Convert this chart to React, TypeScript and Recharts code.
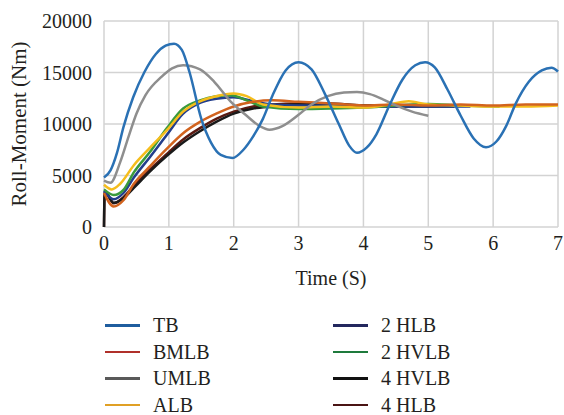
import React from 'react';
import { LineChart, Line, XAxis, YAxis, CartesianGrid, Legend } from 'recharts';

const xTicks = [0, 1, 2, 3, 4, 5, 6, 7];
const yTicks = [0, 5000, 10000, 15000, 20000];

const tbTime = [0, 0.1, 0.2, 0.3, 0.45, 0.62, 0.8, 0.95, 1.08, 1.2, 1.32, 1.5, 1.65, 1.8, 1.98, 2.15, 2.3, 2.45, 2.6, 2.8, 3.0, 3.2, 3.4, 3.62, 3.78, 3.9, 4.05, 4.2, 4.4, 4.6, 4.8, 4.95, 5.1, 5.3, 5.5, 5.7, 5.89, 6.05, 6.2, 6.35, 6.55, 6.75, 6.9, 7.0];
const tbValue = [4800, 5500, 7200, 9700, 12600, 15000, 16800, 17600, 17800, 17200, 15000, 10500, 8200, 7000, 6700, 7500, 8800, 10500, 12800, 15200, 16000, 15300, 13000, 10000, 7900, 7200, 7700, 9000, 11800, 14300, 15700, 16000, 15500, 13300, 10800, 8600, 7750, 8300, 9800, 12000, 14100, 15200, 15470, 15100];

const umlbTime = [0, 0.1, 0.25, 0.38, 0.5, 0.64, 0.89, 1.05, 1.22, 1.48, 1.7, 1.95, 2.2, 2.4, 2.55, 2.75, 3.0, 3.2, 3.45, 3.7, 3.9, 4.1, 4.3, 4.5, 4.75, 5.0];
const umlbValue = [4500, 4300, 6300, 8800, 11000, 12800, 14600, 15400, 15700, 15300, 14100, 12200, 10800, 9800, 9450, 9800, 10900, 11900, 12700, 13050, 13100, 12900, 12400, 11800, 11200, 10800];

const albTime = [0, 0.12, 0.25, 0.46, 0.71, 0.97, 1.22, 1.48, 1.73, 2.0, 2.2, 2.45, 3.0, 3.5, 4.0, 4.4, 4.7, 5.0, 5.5, 6.0, 6.5, 7.0];
const albValue = [4100, 3650, 4200, 6000, 7700, 9400, 11200, 12200, 12700, 12950, 12700, 11900, 11600, 11700, 11600, 11900, 12200, 11900, 11800, 11700, 11700, 11800];

const hvlb2Time = [0, 0.15, 0.3, 0.46, 0.71, 0.97, 1.22, 1.48, 1.73, 1.95, 2.2, 2.45, 3.0, 3.5, 4.0, 4.5, 5.0, 5.5, 6.1];
const hvlb2Value = [3650, 3100, 3600, 5300, 7300, 9600, 11500, 12300, 12700, 12800, 12300, 11700, 11450, 11500, 11600, 11800, 11950, 11800, 11700];

const hlb2Time = [0, 0.15, 0.3, 0.46, 0.71, 0.97, 1.22, 1.48, 1.73, 2.0, 2.3, 2.6, 3.0, 3.5, 4.0, 4.5, 5.0, 5.65];
const hlb2Value = [3500, 2700, 3300, 4800, 6800, 8950, 11000, 12050, 12450, 12600, 12200, 11900, 11800, 11800, 11700, 11700, 11700, 11700];

const bmlbTime = [0, 0.15, 0.3, 0.46, 0.71, 0.97, 1.22, 1.48, 1.73, 2.0, 2.3, 2.6, 3.0, 3.5, 4.0, 4.5, 5.0, 5.5, 6.0, 6.5, 7.0];
const bmlbValue = [3300, 2000, 2600, 4200, 5900, 7600, 9100, 10200, 11000, 11700, 12150, 12300, 12150, 12000, 11800, 11900, 11800, 11900, 11800, 11900, 11900];

const hvlb4Time = [0, 0.01, 0.15, 0.3, 0.46, 0.71, 0.97, 1.22, 1.48, 1.73, 2.0, 2.3, 2.6, 3.0, 3.5, 4.0, 4.5, 5.0, 5.4];
const hvlb4Value = [0, 3400, 2350, 2800, 3800, 5400, 6900, 8200, 9300, 10200, 11000, 11500, 11700, 11900, 11900, 11800, 11700, 11700, 11700];

const hlb4Time = [0, 0.01, 0.15, 0.3, 0.46, 0.71, 0.97, 1.22, 1.48, 1.73, 2.0, 2.3, 2.6, 3.0, 3.5, 4.0, 4.5, 5.0, 5.5];
const hlb4Value = [0, 3500, 2300, 2900, 4000, 5600, 7100, 8500, 9600, 10500, 11200, 11700, 11900, 12000, 12000, 11800, 11800, 11800, 11800];

const toPoints = (t: number[], v: number[]) => t.map((x, i) => ({ t: x, v: v[i] }));

const series = [
  { name: '4 HLB', time: hlb4Time, value: hlb4Value, color: '#5a1a12', legendColor: '#4a1414' },
  { name: '4 HVLB', time: hvlb4Time, value: hvlb4Value, color: '#1a1a1a', legendColor: '#111111' },
  { name: '2 HLB', time: hlb2Time, value: hlb2Value, color: '#223e8c', legendColor: '#23285e' },
  { name: '2 HVLB', time: hvlb2Time, value: hvlb2Value, color: '#3a9a3c', legendColor: '#1e7a3c' },
  { name: 'ALB', time: albTime, value: albValue, color: '#f5bd1c', legendColor: '#e0a025' },
  { name: 'BMLB', time: bmlbTime, value: bmlbValue, color: '#d2631e', legendColor: '#b0302a' },
  { name: 'UMLB', time: umlbTime, value: umlbValue, color: '#8e8e8e', legendColor: '#595959' },
  { name: 'TB', time: tbTime, value: tbValue, color: '#2a71b4', legendColor: '#1f5d9e' },
];

const legendOrder = ['TB', 'BMLB', 'UMLB', 'ALB', '2 HLB', '2 HVLB', '4 HVLB', '4 HLB'];

const FONT = '"Liberation Serif", "Times New Roman", serif';
const TEXT = '#231f20';
const GRID = '#d3d3d3';

const LegendContent = () => (
  <div
    style={{
      display: 'grid',
      gridTemplateColumns: '228px 200px',
      gridTemplateRows: 'repeat(4, 26.5px)',
      gridAutoFlow: 'column',
      fontFamily: FONT,
      fontSize: 20,
      lineHeight: '18px',
      color: TEXT,
    }}
  >
    {legendOrder.map((n) => {
      const s = series.find((x) => x.name === n)!;
      return (
        <div key={n} style={{ display: 'flex', alignItems: 'center', height: 26.5 }}>
          <span style={{ display: 'inline-block', width: 35, height: 2.5, background: s.legendColor, marginRight: 13 }} />
          <span style={{ lineHeight: '18px' }}>{n}</span>
        </div>
      );
    })}
  </div>
);

export default function App() {
  return (
    <div style={{ position: 'absolute', left: 0, top: 0, fontFamily: FONT }}>
      <LineChart width={564} height={415} margin={{ top: 21, right: 6, bottom: 130, left: 0 }} style={{ fontFamily: FONT }}>
        <CartesianGrid stroke={GRID} strokeWidth={1.5} />
        <XAxis
          dataKey="t"
          type="number"
          domain={[0, 7]}
          ticks={xTicks}
          interval={0}
          axisLine={false}
          tickLine={false}
          tickSize={0}
          tickMargin={9}
          height={58}
          tick={{ fill: TEXT, fontFamily: FONT, fontSize: 20 }}
          label={{ value: 'Time (S)', position: 'insideBottom', offset: 0, fill: TEXT, fontFamily: FONT, fontSize: 20 }}
        />
        <YAxis
          type="number"
          domain={[0, 20000]}
          ticks={yTicks}
          interval={0}
          width={104}
          axisLine={false}
          tickLine={false}
          tickSize={0}
          tickMargin={12}
          tick={{ fill: TEXT, fontFamily: FONT, fontSize: 20 }}
          label={{ value: 'Roll-Moment (Nm)', angle: -90, position: 'insideLeft', offset: 19, fill: TEXT, fontFamily: FONT, fontSize: 21, style: { textAnchor: 'middle' } }}
        />
        <Legend
          layout="vertical"
          align="center"
          verticalAlign="middle"
          content={<LegendContent />}
          wrapperStyle={{ left: 105, top: 312, width: 440 }}
        />
        {series.map((s) => (
          <Line
            key={s.name}
            data={toPoints(s.time, s.value)}
            dataKey="v"
            name={s.name}
            type="monotone"
            stroke={s.color}
            strokeWidth={2.5}
            dot={false}
            activeDot={false}
            isAnimationActive={false}
          />
        ))}
      </LineChart>
    </div>
  );
}
